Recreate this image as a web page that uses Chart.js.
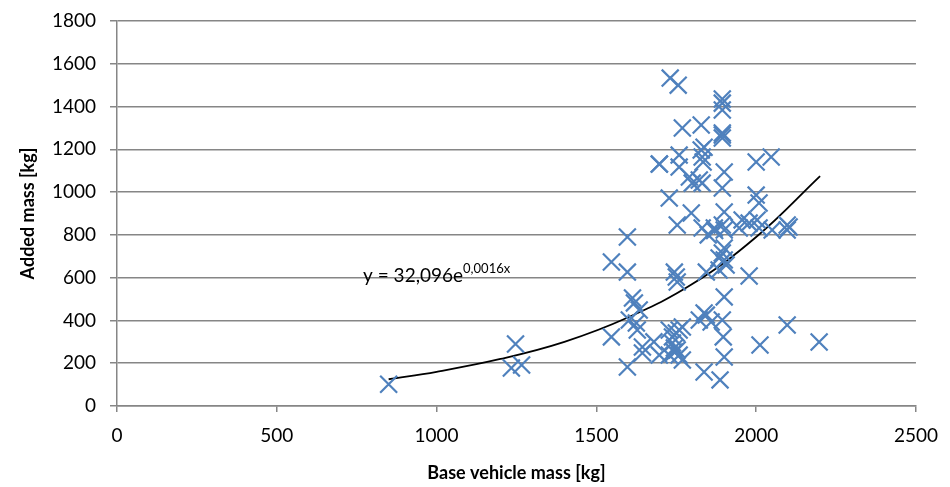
<!DOCTYPE html>
<html>
<head>
<meta charset="utf-8">
<script src="https://cdn.jsdelivr.net/npm/chart.js@4.4.1/dist/chart.umd.min.js"></script>
<style>
  html, body { margin: 0; padding: 0; background: #fff; }
  #wrap { width: 950px; height: 487px; }
</style>
</head>
<body>
<div id="wrap"><canvas id="grafico"></canvas></div>
<script>
// Massa do veículo base (kg)
const baseMass = [
  850, 1247, 1234, 1266,
  1547, 1597, 1597, 1613, 1619, 1634, 1603, 1625, 1547, 1628, 1644, 1644, 1597, 1680,
  1697, 1731, 1756, 1769, 1828, 1697, 1759, 1759, 1828, 1831, 1834,
  1728, 1797, 1753, 1744, 1750, 1753, 1800, 1822, 1791,
  1728, 1738, 1750, 1759, 1769, 1744, 1744, 1753, 1728, 1759, 1738, 1697, 1769,
  1822, 1837, 1837, 1844, 1859, 1894, 1897, 1900, 1887, 1844, 1884, 1906, 1900,
  1894, 1894, 1894, 1894, 1894, 1894, 1894, 1900, 1900, 1900,
  1837, 1831, 1894, 1900, 1884, 1869, 1831, 1894, 1900,
  2000, 2047, 2000, 2009, 1956, 1978, 2003, 2009, 1947, 2050, 2097, 2097, 2103,
  1978, 2012, 2097, 2197, 1850, 1870
];
// Massa adicionada (kg)
const addedMass = [
  102, 290, 178, 192,
  673, 790, 626, 505, 482, 449, 402, 388, 323, 355, 276, 248, 182, 300,
  238, 1533, 1500, 1300, 1314, 1131, 1173, 1117, 1197, 1164, 1141,
  972, 902, 846, 626, 603, 580, 1042, 1057, 1071,
  355, 323, 341, 355, 369, 271, 252, 262, 238, 238, 295, 1131, 215,
  402, 435, 159, 626, 393, 402, 323, 229, 122, 425, 636, 659, 683,
  1435, 1416, 1384, 1276, 1267, 1253, 1019, 1094, 907, 510,
  1210, 1042, 846, 739, 692, 832, 832, 715, 823,
  1141, 1164, 986, 949, 870, 855, 870, 832, 832, 823, 846, 823, 837,
  608, 285, 379, 299, 800, 820
];

// Linha de tendência (y = 32,096e^0,0016x)
const trendX = [850, 1000, 1200, 1400, 1600, 1800, 2000, 2200];
const trendY = [125, 160, 220, 300, 415, 570, 790, 1075];

const xTicks = [0, 500, 1000, 1500, 2000, 2500];
const yTicks = [0, 200, 400, 600, 800, 1000, 1200, 1400, 1600, 1800];

const fonte = "Lato, 'Open Sans', sans-serif";
const azul = "#4F81BD";
const cinza = "#868686";

// Texto da equação com expoente
const equacaoPlugin = {
  id: "equacao",
  afterDatasetsDraw(chart) {
    const ctx = chart.ctx;
    const x = chart.scales.x.getPixelForValue(770);
    const y = chart.scales.y.getPixelForValue(580);
    ctx.save();
    ctx.fillStyle = "#000";
    ctx.textBaseline = "alphabetic";
    ctx.font = "19px " + fonte;
    const base = "y = 32,096e";
    ctx.fillText(base, x, y);
    const w = ctx.measureText(base).width;
    ctx.font = "13px " + fonte;
    ctx.fillText("0,0016x", x + w, y - 9);
    ctx.restore();
  },
};

new Chart(document.getElementById("grafico"), {
  type: "scatter",
  data: {
    datasets: [
      {
        label: "Added mass",
        data: baseMass.map((b, i) => ({ x: b, y: addedMass[i] })),
        pointStyle: "crossRot",
        pointRadius: 12,
        pointHoverRadius: 12,
        borderColor: azul,
        backgroundColor: azul,
        pointBorderWidth: 2.2,
        showLine: false,
      },
      {
        label: "Trend",
        data: trendX.map((t, i) => ({ x: t, y: trendY[i] })),
        showLine: true,
        pointRadius: 0,
        borderColor: "#000",
        borderWidth: 1.8,
        tension: 0.4,
        fill: false,
      },
    ],
  },
  options: {
    responsive: true,
    maintainAspectRatio: false,
    animation: false,
    layout: { padding: { top: 21, right: 33, left: 0, bottom: 0 } },
    plugins: {
      legend: { display: false },
      tooltip: { enabled: false },
    },
    scales: {
      x: {
        type: "linear",
        min: 0,
        max: 2500,
        afterBuildTicks: (axis) => { axis.ticks = xTicks.map((v) => ({ value: v })); },
        afterFit: (axis) => { axis.height = 81; },
        border: { color: cinza, width: 1.5 },
        grid: { drawOnChartArea: false, drawTicks: true, tickLength: 6, color: cinza, lineWidth: 1.5 },
        ticks: {
          color: "#000",
          font: { family: fonte, size: 19 },
          padding: 12,
          maxRotation: 0,
          callback: (v) => String(v),
        },
        title: {
          display: true,
          text: "Base vehicle mass [kg]",
          color: "#000",
          font: { family: fonte, size: 18, weight: "bold" },
          padding: { top: 2, bottom: 3 },
        },
      },
      y: {
        min: 0,
        max: 1800,
        afterBuildTicks: (axis) => { axis.ticks = yTicks.map((v) => ({ value: v })); },
        afterFit: (axis) => { axis.width = 117; axis.paddingTop = 0; axis.paddingBottom = 0; },
        border: { color: cinza, width: 1.5 },
        grid: { color: cinza, lineWidth: 1.5, drawTicks: true, tickLength: 7 },
        ticks: {
          color: "#000",
          font: { family: fonte, size: 19, lineHeight: 0.9 },
          padding: 14,
          callback: (v) => String(v),
        },
        title: {
          display: true,
          text: "Added mass [kg]",
          color: "#000",
          font: { family: fonte, size: 18, weight: "bold" },
          padding: { top: 17, bottom: 0 },
        },
      },
    },
  },
  plugins: [equacaoPlugin],
});
</script>
</body>
</html>
